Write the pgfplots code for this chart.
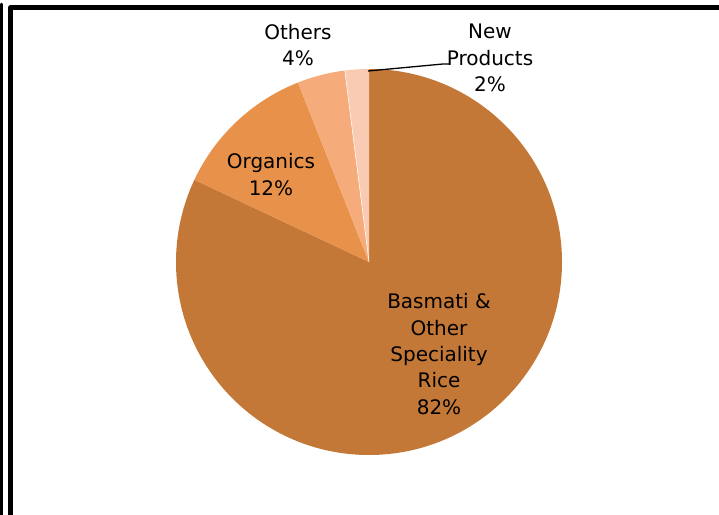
\documentclass[border=0pt]{standalone}
\usepackage{pgfplots}
\pgfplotsset{compat=1.18}
\usepackage{fontspec}
\setmainfont{DejaVu Sans}
\definecolor{cBas}{HTML}{C47838}
\definecolor{cOrg}{HTML}{E8914A}
\definecolor{cOth}{HTML}{F6AC7A}
\definecolor{cNew}{HTML}{F9CBB3}
% values (percent)
\def\vBas{82}
\def\vOrg{12}
\def\vOth{4}
\def\vNew{2}
\newcommand{\slice}[3]{%
  \fill[#3] (axis cs:369,252) -- ++(#1:193pt)
    arc[start angle=#1, end angle=#2, radius=193pt] -- cycle;}
\begin{document}
\begin{tikzpicture}
\path[use as bounding box] (0,0) rectangle (719pt,514pt);
\begin{axis}[at={(0,0)}, anchor=south west, scale only axis,
  width=719pt, height=514pt, xmin=0, xmax=719, ymin=0, ymax=514,
  hide axis, clip=false]
\pgfmathsetmacro{\aA}{90}
\pgfmathsetmacro{\aB}{\aA-3.6*\vBas}
\pgfmathsetmacro{\aC}{\aB-3.6*\vOrg}
\pgfmathsetmacro{\aD}{\aC-3.6*\vOth}
\pgfmathsetmacro{\aE}{\aD-3.6*\vNew}
\slice{\aA}{\aB}{cBas}
\slice{\aB}{\aC}{cOrg}
\slice{\aC}{\aD}{cOth}
\slice{\aD}{\aE}{cNew}
\draw[white, line width=0.5pt] (axis cs:369,252) -- ++(\aD:193pt);
% leader line
\draw[black, line width=1.3pt] (axis cs:368,443) -- (axis cs:443,450) -- (axis cs:449,450);
% labels
\tikzset{lbl/.style={align=center, text=black, inner sep=0pt, font=\fontsize{20}{26.3}\selectfont}}
\node[lbl] at (axis cs:439,160) {Basmati \&\\Other\\Speciality\\Rice\\82\%};
\node[lbl] at (axis cs:271,339.5) {Organics\\12\%};
\node[lbl] at (axis cs:298,469) {Others\\4\%};
\node[lbl] at (axis cs:490,456) {New\\Products\\2\%};
% frame
\draw[black, line width=2.6pt, line cap=round] (axis cs:1.3,510) -- (axis cs:1.3,-5);
\draw[black, line width=4.6pt, line join=round] (axis cs:10.5,-5) -- (axis cs:10.5,506.5) -- (axis cs:725,506.5);
\end{axis}
\end{tikzpicture}
\end{document}
